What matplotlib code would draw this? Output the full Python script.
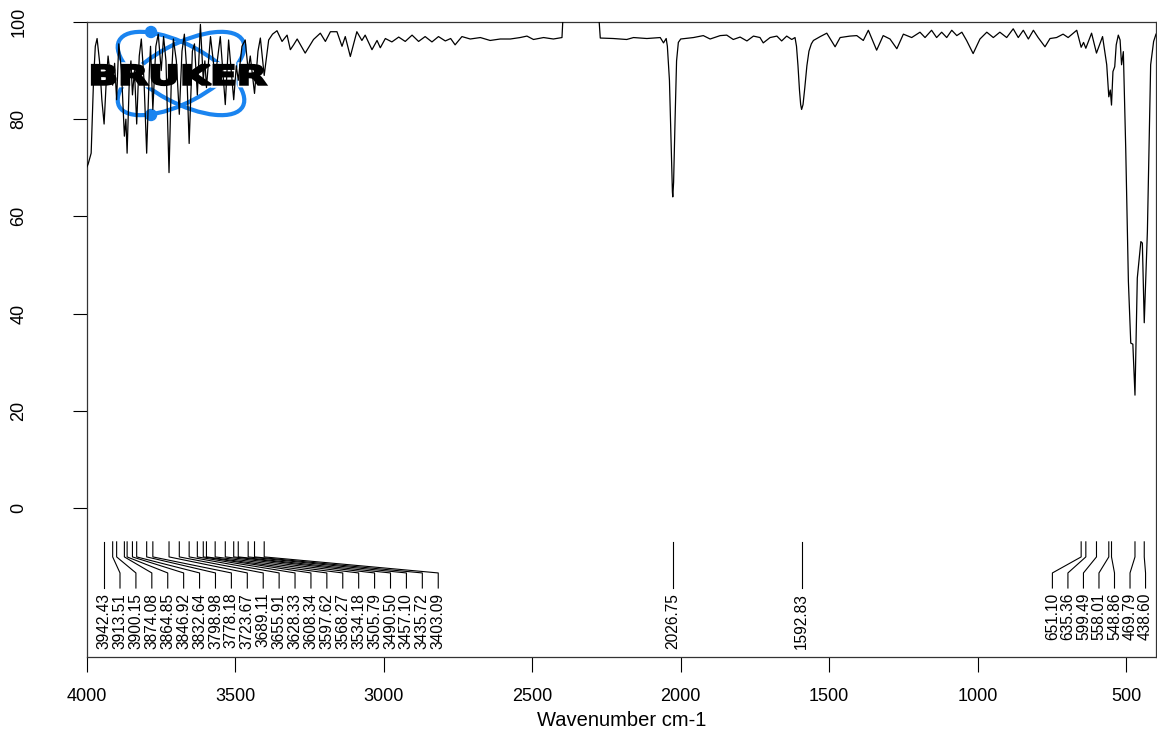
import matplotlib
matplotlib.use("Agg")
import matplotlib.pyplot as plt
import matplotlib.transforms as mtransforms
import matplotlib.patheffects as pe
from matplotlib.patches import Ellipse, Circle, PathPatch
from matplotlib.textpath import TextPath
from matplotlib.font_manager import FontProperties

plt.rcParams['font.family'] = ['Liberation Sans', 'DejaVu Sans']

# spectrum (wavenumber cm-1, % transmittance)
wavenumber = [
    4000, 3996, 3989, 3986, 3978, 3972, 3966, 3958, 3950, 3942.4,
    3935, 3929, 3921, 3913.5, 3907, 3900.2, 3893, 3884, 3874.1, 3869,
    3864.9, 3857, 3852, 3846.9, 3840, 3832.6, 3824, 3817, 3808, 3799,
    3790, 3786, 3778.2, 3768, 3760, 3750, 3742, 3734, 3723.7, 3716,
    3709, 3699, 3689.1, 3680, 3672, 3664, 3655.9, 3645, 3638, 3628.3,
    3618, 3608.3, 3603, 3597.6, 3584, 3568.3, 3551, 3534.2, 3523, 3505.8,
    3497, 3490.5, 3478, 3467, 3457.1, 3450, 3435.7, 3424, 3416, 3403.1,
    3388, 3375, 3360, 3343, 3326, 3315, 3304, 3292, 3265, 3237,
    3214, 3197, 3180, 3158, 3141, 3130, 3113, 3091, 3074, 3063,
    3040, 3023, 3012, 2995, 2973, 2950, 2928, 2905, 2883, 2861,
    2838, 2816, 2793, 2775, 2760, 2737, 2709, 2675, 2642, 2608,
    2574, 2541, 2518, 2496, 2462, 2429, 2400, 2395, 2278, 2271,
    2227, 2182, 2159, 2114, 2069, 2058, 2049, 2045, 2038, 2032,
    2028, 2026.75, 2024, 2019, 2014, 2008, 2000, 1957, 1924, 1901,
    1867, 1845, 1823, 1800, 1777, 1755, 1733, 1722, 1699, 1676,
    1660, 1643, 1626, 1615, 1610, 1605, 1600, 1596, 1592.8, 1588,
    1582, 1575, 1568, 1560, 1553, 1530, 1508, 1480, 1463, 1430,
    1407, 1385, 1368, 1340, 1318, 1295, 1272, 1250, 1222, 1194,
    1177, 1155, 1138, 1121, 1104, 1087, 1070, 1053, 1037, 1015,
    992, 969, 947, 925, 902, 880, 863, 846, 829, 812,
    796, 773, 756, 734, 712, 695, 666, 651.1, 643, 635.4,
    616, 599.5, 579, 565, 558, 553, 548.9, 544, 538, 533,
    526, 520, 515, 509, 501, 492, 484, 477, 469.8, 462,
    450, 445, 438.6, 428, 417, 407, 399,
]
transmittance = [
    70.2, 70.8, 72.3, 73.0, 88.0, 95.0, 96.6, 92.0, 84.0, 79.0,
    88.0, 93.0, 88.6, 87.0, 91.5, 84.0, 95.5, 90.0, 76.5, 80.0,
    73.0, 89.0, 92.0, 85.0, 90.0, 79.0, 93.0, 96.5, 88.0, 73.0,
    90.0, 95.0, 82.0, 95.0, 97.5, 90.0, 97.0, 92.0, 69.0, 88.0,
    96.5, 92.0, 81.0, 94.0, 97.5, 90.0, 75.0, 94.0, 95.5, 85.0,
    99.5, 88.0, 92.0, 86.5, 97.0, 88.5, 97.0, 83.0, 96.3, 84.0,
    91.0, 88.0, 95.0, 96.3, 90.0, 93.0, 85.3, 94.0, 96.7, 89.0,
    96.3, 97.5, 98.2, 96.0, 97.3, 94.3, 95.3, 96.5, 93.6, 96.4,
    97.7, 96.0, 98.0, 98.0, 95.0, 97.0, 92.9, 98.0, 96.2, 97.3,
    94.3, 96.2, 94.7, 96.6, 95.9, 96.9, 96.0, 97.3, 96.0, 97.0,
    95.9, 97.0, 96.1, 96.6, 95.3, 97.0, 96.5, 96.8, 96.2, 96.5,
    96.5, 96.8, 97.1, 96.4, 96.8, 96.5, 96.8, 103.0, 103.0, 96.7,
    96.6, 96.4, 96.8, 96.6, 96.8, 95.7, 96.6, 95.0, 88.0, 74.0,
    65.0, 64.0, 67.0, 80.0, 92.0, 95.8, 96.5, 96.8, 97.2, 96.5,
    97.2, 97.3, 96.4, 96.9, 96.1, 97.1, 96.8, 95.7, 96.8, 97.1,
    96.1, 97.1, 96.4, 96.8, 95.0, 91.0, 86.0, 83.0, 82.0, 83.0,
    86.5, 91.0, 94.0, 95.5, 96.2, 97.0, 97.7, 94.9, 96.8, 97.1,
    97.2, 96.2, 98.3, 94.2, 97.2, 96.5, 94.5, 97.5, 96.8, 97.9,
    96.8, 98.3, 96.8, 97.9, 96.8, 98.3, 97.2, 97.9, 96.2, 93.5,
    96.5, 97.9, 96.8, 97.9, 96.8, 98.6, 96.8, 98.3, 96.5, 98.3,
    96.8, 94.9, 96.6, 96.8, 97.5, 96.8, 98.3, 94.8, 95.8, 94.6,
    97.7, 93.6, 97.0, 91.2, 84.6, 86.0, 82.9, 89.8, 90.8, 95.3,
    97.3, 96.3, 91.2, 93.9, 74.0, 46.6, 33.9, 33.7, 23.2, 47.3,
    54.8, 54.5, 38.1, 56.9, 91.2, 96.0, 97.5,
]

peaks_left = [3942.43, 3913.51, 3900.15, 3874.08, 3864.85, 3846.92, 3832.64,
              3798.98, 3778.18, 3723.67, 3689.11, 3655.91, 3628.33, 3608.34,
              3597.62, 3568.27, 3534.18, 3505.79, 3490.50, 3457.10, 3435.72,
              3403.09]
peaks_mid = [2026.75, 1592.83]
peaks_right = [651.10, 635.36, 599.49, 558.01, 548.86, 469.79, 438.60]

xticks = [4000, 3500, 3000, 2500, 2000, 1500, 1000, 500]
yticks = [0, 20, 40, 60, 80, 100]

W, H = 1157, 733
fig = plt.figure(figsize=(W / 100, H / 100), dpi=100)
ax = fig.add_axes([87 / W, 1 - 657 / H, (1156 - 87) / W, (657 - 22) / H])

ax.plot(wavenumber, transmittance, color='black', lw=0.9, zorder=4)
ax.set_xlim(4000, 399)
ax.set_ylim(-30.7, 100)

ax.set_xticks(xticks)
ax.set_xticklabels([str(t) for t in xticks], fontsize=13)
ax.set_yticks(yticks)
ax.set_yticklabels([str(t) for t in yticks], fontsize=13, rotation=90, va='center')
ax.tick_params(axis='x', length=11, width=0.8, pad=11)
ax.tick_params(axis='y', length=10, width=0.8, pad=33)
for s in ax.spines.values():
    s.set_linewidth(0.9)
    s.set_color('#333333')
ax.set_xlabel('Wavenumber cm-1', fontsize=14.5, va='center')
ax.xaxis.set_label_coords(0.5, (657 - 720) / 635)


# peak annotation lines + labels
def label_peaks(peaks, positions):
    for p, q in zip(peaks, positions):
        ax.plot([p, p, q, q], [-7, -10.1, -13.4, -16.5], color='black', lw=0.8)
        ax.text(q, -17.5, f"{p:.2f}", rotation=90, ha='center', va='top', fontsize=11.2)


label_peaks(peaks_left, [3942.43 - 53.6 * i for i in range(len(peaks_left))])
label_peaks(peaks_mid, peaks_mid)
label_peaks(peaks_right, [748 - 52.3 * i for i in range(len(peaks_right))])

# Bruker logo, drawn in image pixel coordinates (y down)
pix = mtransforms.Affine2D().scale(1 / W, -1 / H).translate(0, 1) + fig.transFigure
blue = '#1a84f0'
for ang in (28, -28):
    ax.add_patch(Ellipse((181, 73.5), 140, 58, angle=ang, fill=False, ec=blue,
                         lw=3.0, transform=pix, zorder=2))
for cy in (32, 115):
    ax.add_patch(Circle((151, cy), 5.5, color=blue, transform=pix, zorder=2))

tp = TextPath((0, 0), "BRUKER", size=1, prop=FontProperties(family='DejaVu Sans', weight='bold'))
bb = tp.get_extents()
place = (mtransforms.Affine2D().translate(-bb.x0, -bb.y0)
         .scale((266 - 92) / bb.width, -(85 - 65) / bb.height).translate(92, 85))
ax.add_patch(PathPatch(tp, fc='black', ec='black', lw=1.6, transform=place + pix, zorder=3,
                       path_effects=[pe.withStroke(linewidth=4, foreground='white')]))

fig.savefig('out.png', dpi=100)
